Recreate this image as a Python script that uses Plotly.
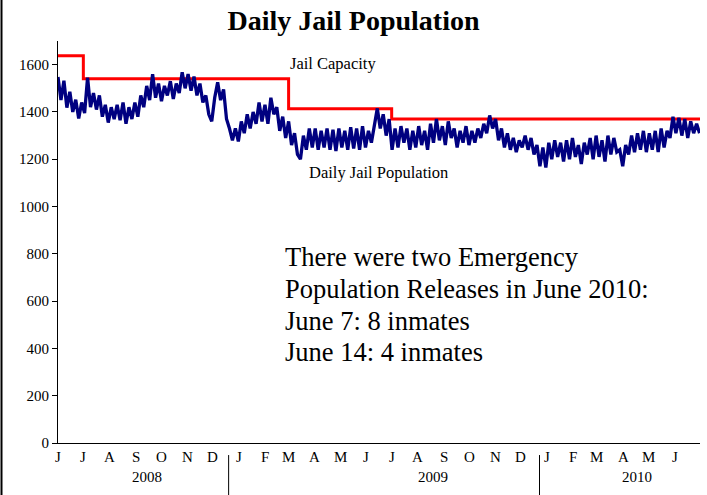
import plotly.graph_objects as go
import pandas as pd

start_date = "2008-06-01"
population = [
    1548, 1450, 1532, 1418, 1485, 1400, 1452, 1372, 1440, 1395,
    1545, 1420, 1480, 1410, 1470, 1380, 1430, 1355, 1420, 1370,
    1430, 1365, 1440, 1350, 1420, 1370, 1440, 1380, 1470, 1420,
    1510, 1450, 1560, 1460, 1520, 1445, 1510, 1470, 1530, 1455,
    1520, 1480, 1568, 1500, 1560, 1490, 1550, 1470, 1520, 1440,
    1470, 1390, 1360, 1460, 1525, 1450, 1495, 1370, 1330, 1280,
    1330, 1275, 1360, 1310, 1390, 1330, 1400, 1350, 1440, 1360,
    1430, 1350, 1460, 1390, 1420, 1320, 1380, 1290, 1360, 1260,
    1310, 1220, 1200, 1300, 1240, 1330, 1250, 1330, 1240, 1320,
    1250, 1330, 1240, 1325, 1235, 1330, 1250, 1320, 1240, 1335,
    1245, 1330, 1240, 1340, 1250, 1320, 1270, 1350, 1415, 1330,
    1390, 1300, 1370, 1240, 1330, 1250, 1340, 1270, 1330, 1240,
    1320, 1250, 1340, 1260, 1320, 1240, 1350, 1270, 1370, 1280,
    1340, 1260, 1360, 1290, 1330, 1250, 1320, 1270, 1340, 1260,
    1320, 1270, 1330, 1290, 1350, 1310, 1385, 1330, 1370, 1280,
    1330, 1250, 1310, 1240, 1290, 1230, 1280, 1250, 1300, 1240,
    1290, 1220, 1260, 1170, 1250, 1165, 1270, 1200, 1280, 1210,
    1270, 1190, 1280, 1200, 1290, 1210, 1260, 1180, 1270, 1220,
    1290, 1200, 1300, 1210, 1280, 1190, 1300, 1220, 1290, 1230,
    1240, 1170, 1260, 1220, 1300, 1230, 1310, 1240, 1320, 1230,
    1310, 1240, 1320, 1230, 1330, 1250, 1320, 1290, 1380, 1310,
    1375, 1300, 1370, 1290, 1360, 1310, 1350, 1310,
]
pop_dates = pd.date_range(start_date, periods=len(population), freq="84h")

# Jail capacity steps
capacity_dates = ["2008-06-01", "2008-07-01", "2009-03-01", "2009-07-01", "2010-07-01"]
capacity_values = [1638, 1540, 1414, 1370, 1370]

# Category axis labels
month_dates = pd.date_range("2008-06-01", "2010-06-01", freq="MS")
month_labels = ["J", "J", "A", "S", "O", "N", "D",
                "J", "F", "M", "A", "M", "J", "J", "A", "S", "O", "N", "D",
                "J", "F", "M", "A", "M", "J"]
year_labels = ["2008", "2009", "2010"]
year_dates = ["2008-09-14", "2009-08-19", "2010-04-17"]
separator_dates = ["2008-12-20", "2009-12-23"]

note_lines = ["There were two Emergency",
              "Population Releases in June 2010:",
              "June 7: 8 inmates",
              "June 14: 4 inmates"]
note_y = [787, 652, 516, 385]

serif = "Liberation Serif"

fig = go.Figure()
fig.add_trace(go.Scatter(
    x=capacity_dates, y=capacity_values, mode="lines", line_shape="hv",
    line=dict(color="#ff0000", width=3), name="Jail Capacity"
))
fig.add_trace(go.Scatter(
    x=pop_dates, y=population, mode="lines",
    line=dict(color="#000080", width=3.3), name="Daily Jail Population"
))

annotations = []
for d, lab in zip(month_dates, month_labels):
    annotations.append(dict(x=d, y=-0.06, xref="x", yref="paper", text=lab,
                            showarrow=False, font=dict(size=15, color="black")))
for d, lab in zip(year_dates, year_labels):
    annotations.append(dict(x=d, y=-0.11, xref="x", yref="paper", text=lab,
                            showarrow=False, font=dict(size=15, color="black")))

annotations += [
    dict(x="2009-04-22", y=1604, text="Jail Capacity", showarrow=False,
         font=dict(size=16.5, color="black")),
    dict(x="2009-06-15", y=1143, text="Daily Jail Population", showarrow=False,
         font=dict(size=16.5, color="black")),
]
for txt, yv in zip(note_lines, note_y):
    annotations.append(dict(x="2009-02-22", y=yv, xanchor="left", text=txt,
                            showarrow=False, font=dict(size=26.5, color="black")))

shapes = [dict(type="line", xref="x", yref="paper", x0=d, x1=d, y0=-0.03, y1=-0.13,
               line=dict(color="black", width=1)) for d in separator_dates]
# left border of the original image
shapes.append(dict(type="line", xref="paper", yref="paper", x0=-0.088, x1=-0.088,
                   y0=-0.13, y1=1.11, line=dict(color="black", width=2)))

fig.update_layout(
    width=707, height=495,
    margin=dict(l=58, r=7, t=41, b=52),
    paper_bgcolor="white", plot_bgcolor="white",
    showlegend=False,
    font=dict(family=serif, color="black"),
    title=dict(text="<b>Daily Jail Population</b>", x=0.5, xanchor="center",
               y=0.96, yanchor="middle", font=dict(size=28, family=serif)),
    annotations=annotations,
    shapes=shapes,
)
fig.update_xaxes(range=["2008-06-01", "2010-07-01"], showticklabels=False,
                 showgrid=False, zeroline=False, showline=True,
                 linecolor="black", linewidth=1, ticks="", automargin=False)
fig.update_yaxes(range=[0, 1700], dtick=200, tick0=0, showgrid=False,
                 zeroline=False, showline=True, linecolor="black", linewidth=1,
                 ticks="outside", ticklen=5, tickcolor="black", automargin=False,
                 tickfont=dict(size=15, family=serif))

fig.write_html("out.html", config={"displayModeBar": False},
               post_script="document.body.style.margin='0';")
